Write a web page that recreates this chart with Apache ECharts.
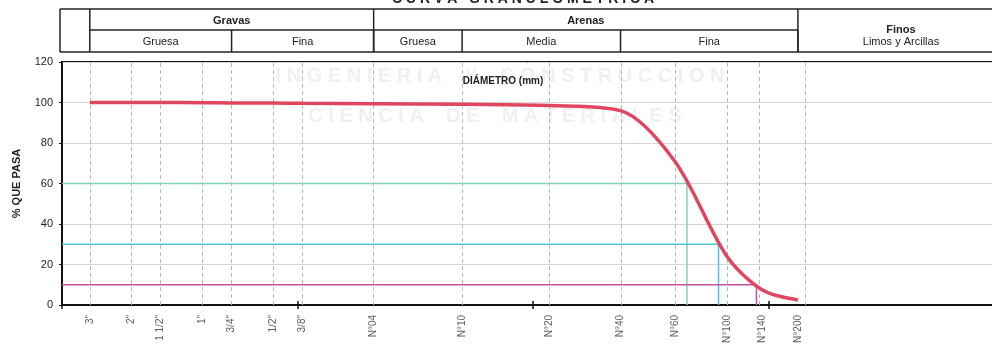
<!DOCTYPE html>
<html><head><meta charset="utf-8">
<script src="https://cdn.jsdelivr.net/npm/echarts@6/dist/echarts.min.js"></script>
<style>html,body{margin:0;padding:0;background:#fff}#c{width:992px;height:347px}</style>
</head><body><div id="c"></div>
<script>
// ---- data ----
const sieveLabels = ['3"', '2"', '1 1/2"', '1"', '3/4"', '1/2"', '3/8"', 'N°04', 'N°10', 'N°20', 'N°40', 'N°60', 'N°100', 'N°140', 'N°200'];
const sieveMm = [76.2, 50.8, 38.1, 25.4, 19.05, 12.7, 9.525, 4.75, 2.0, 0.85, 0.425, 0.25, 0.15, 0.106, 0.075];
const percentPassing = [100, 100, 100, 99.9, 99.8, 99.7, 99.6, 99.4, 99.1, 98.5, 96, 71, 24, 7.4, 2.5];
const refNames = ['D60', 'D30', 'D10'];
const refPercent = [60, 30, 10];
const refDiameter = [0.222, 0.163, 0.1125];
const refColors = ['#84d2b6', '#52c4d6', '#c4529f'];
const yMin = 0, yMax = 120, yStep = 20;
const xMinMm = 0.001, xMaxMm = 100;
const groupNames = ['Gravas', 'Arenas'];
const groupBounds = [[76.2, 4.75], [4.75, 0.075]];
const finesName = 'Finos';
const finesSub = 'Limos y Arcillas';
const finesBounds = [0.075, 0.01];
const subNames = ['Gruesa', 'Fina', 'Gruesa', 'Media', 'Fina'];
const subBounds = [[76.2, 19.05], [19.05, 4.75], [4.75, 2.0], [2.0, 0.425], [0.425, 0.075]];
const titleText = 'C U R V A   G R A N U L O M E T R I C A';
const xAxisTitle = 'DIÁMETRO (mm)';
const yAxisTitle = '% QUE PASA';
const watermark1 = 'I N G E N I E R I A    Y    C O N S T R U C C I O N';
const watermark2 = 'C I E N C I A    D E    M A T E R I A L E S';

const FONT = '"Liberation Sans", Arial, sans-serif';
const chart = echarts.init(document.getElementById('c'), null, {renderer: 'canvas'});

const logAxisBase = {
  type: 'log', logBase: 10, min: xMinMm, max: xMaxMm, inverse: true,
  gridIndex: 0, position: 'bottom',
  axisLabel: {show: false}, splitLine: {show: false}, minorTick: {show: false}
};

const refSeries = refNames.map((n, i) => ({
  name: n, type: 'line', xAxisIndex: 0, yAxisIndex: 0,
  data: [[xMaxMm, refPercent[i]], [refDiameter[i], refPercent[i]], [refDiameter[i], yMin]],
  symbol: 'none', lineStyle: {color: refColors[i], width: 1.5}, z: 3, silent: true
}));

chart.setOption({
  animation: false,
  backgroundColor: '#fff',
  grid: {left: 62, top: 62, width: 1177.5, height: 243, outerBoundsMode: 'none', containLabel: false,
    show: true, borderColor: '#111', borderWidth: 2, backgroundColor: 'transparent'},
  xAxis: [
    Object.assign({}, logAxisBase, {
      axisLine: {show: true, lineStyle: {color: '#111', width: 2}},
      axisTick: {show: true, length: 4, lineStyle: {color: '#111', width: 1.5}}
    }),
    Object.assign({}, logAxisBase, {
      axisLine: {show: false},
      axisTick: {show: true, inside: true, length: 4, lineStyle: {color: '#111', width: 1.5}}
    })
  ],
  yAxis: {
    type: 'value', min: yMin, max: yMax, interval: yStep,
    axisLine: {show: true, lineStyle: {color: '#111', width: 2}},
    axisTick: {show: true, length: 3, lineStyle: {color: '#111'}},
    axisLabel: {color: '#222', fontSize: 11, margin: 9, fontFamily: FONT},
    splitLine: {show: true, lineStyle: {color: '#d6d6d6', width: 1}},
    name: yAxisTitle, nameLocation: 'middle', nameGap: 40,
    nameTextStyle: {fontWeight: 'bold', fontSize: 11, color: '#222', fontFamily: FONT}
  },
  series: [
    {
      name: 'tamices', type: 'scatter', xAxisIndex: 0, yAxisIndex: 0, clip: false,
      data: sieveMm.map((d, i) => ({value: [d, yMin], name: sieveLabels[i]})),
      symbolSize: 0, silent: true,
      label: {
        show: true, formatter: '{b}', rotate: 90, position: [0, 10],
        align: 'right', verticalAlign: 'middle',
        color: '#333', fontSize: 10, fontFamily: FONT
      },
      markLine: {
        silent: true, symbol: ['none', 'none'], animation: false,
        label: {show: false},
        lineStyle: {type: [4, 3], color: '#b8b8b8', width: 1},
        data: sieveMm.map(d => ({xAxis: d}))
      },
      z: 2
    },
    ...refSeries,
    {
      name: 'Curva', type: 'line', xAxisIndex: 0, yAxisIndex: 0,
      data: sieveMm.map((d, i) => [d, percentPassing[i]]),
      smooth: 0.3, symbol: 'none',
      lineStyle: {color: '#e0465f', width: 3.5}, z: 5
    }
  ]
});

// ---- header table (column edges come from the diameter axis) ----
const px = v => chart.convertToPixel({xAxisIndex: 0}, v);
const yTop = 9, yMid = 30, yBot = 52;
const stroke = {stroke: '#222', lineWidth: 1.5};
const g = [];
const line = (x1, y1, x2, y2) => g.push({type: 'line', shape: {x1, y1, x2, y2}, style: stroke, z: 10});
const txt = (x, y, text, bold, size, color, z) => g.push({type: 'text', x, y, z: z === undefined ? 10 : z,
  style: {text, fill: color || '#222', font: (bold ? 'bold ' : '') + (size || 11) + 'px ' + FONT, textAlign: 'center', textVerticalAlign: 'middle'}});

const left = px(xMaxMm) - 2;
const right = px(finesBounds[1]);
// watermark (faint, behind the data)
txt(500, 76, watermark1, true, 20, '#eef0f3', -5);
txt(495, 116, watermark2, true, 20, '#eef0f3', -5);
// outer box
line(left, yTop, right + 30, yTop);
line(left, yBot, right + 30, yBot);
line(left, yTop, left, yBot);
const x3 = px(groupBounds[0][0]);
line(x3, yTop, x3, yBot);
groupBounds.forEach((b, i) => {
  const a = px(b[0]), c = px(b[1]);
  line(c, yTop, c, yBot);
  line(a, yMid, c, yMid);
  txt((a + c) / 2, (yTop + yMid) / 2 + 1, groupNames[i], true, 11);
});
subBounds.forEach((b, i) => {
  const a = px(b[0]), c = px(b[1]);
  line(c, yMid, c, yBot);
  txt((a + c) / 2, (yMid + yBot) / 2 + 1, subNames[i], false, 11);
});
const fa = px(finesBounds[0]), fb = px(finesBounds[1]);
txt((fa + fb) / 2, 30, finesName, true, 11);
txt((fa + fb) / 2, 42, finesSub, false, 11);
// title, cut by the page top
g.push({type: 'text', x: 523, y: 6, z: 10, style: {text: titleText, fill: '#222', font: 'bold 14px ' + FONT, textAlign: 'center', textVerticalAlign: 'bottom'}});
// axis title inside plot
g.push({type: 'text', x: 503, y: 81, z: 10, style: {text: xAxisTitle, fill: '#222', font: 'bold 10px ' + FONT, textAlign: 'center', textVerticalAlign: 'middle'}});

chart.setOption({graphic: g});
</script>
</body></html>
